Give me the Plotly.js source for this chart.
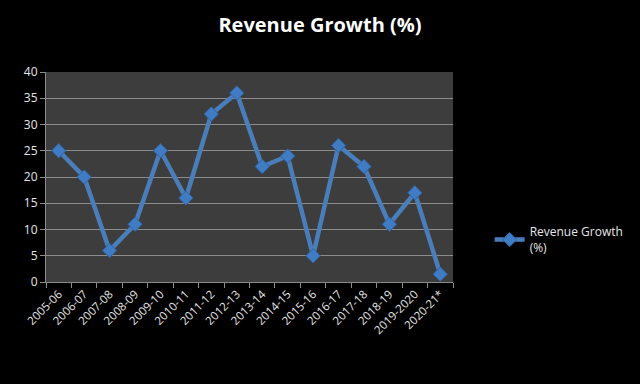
<!DOCTYPE html>
<html>
<head>
<script src="https://cdn.plot.ly/plotly-3.0.1.min.js"></script>
<style>html,body{margin:0;padding:0;background:#000;}#chart{width:640px;height:384px;}</style>
</head>
<body>
<div id="chart"></div>
<script>
const categories = ["2005-06","2006-07","2007-08","2008-09","2009-10","2010-11","2011-12","2012-13","2013-14","2014-15","2015-16","2016-17","2017-18","2018-19","2019-2020","2020-21*"];
const revenueGrowth = [25, 20, 6, 11, 25, 16, 32, 36, 22, 24, 5, 26, 22, 11, 17, 1.5];
const yTicks = [0, 5, 10, 15, 20, 25, 30, 35, 40];

const trace = {
  x: categories,
  y: revenueGrowth,
  type: 'scatter',
  mode: 'lines+markers',
  name: 'Revenue Growth<br>(%)',
  line: {color: '#4a7ebb', width: 4.5},
  marker: {symbol: 'diamond', size: 11, color: '#3f7cc4', line: {color: '#2f62a0', width: 1}}
};

const layout = {
  width: 640, height: 384,
  paper_bgcolor: '#000000',
  plot_bgcolor: '#3d3d3d',
  margin: {l: 46, r: 187, t: 72, b: 102, autoexpand: false},
  title: {text: '<b>Revenue Growth (%)</b>', x: 0.5, xref: 'container', xanchor: 'center', y: 0.935, yref: 'container', yanchor: 'middle', font: {family: 'Open Sans, Liberation Sans, sans-serif', size: 20, color: '#ffffff'}},
  xaxis: {
    type: 'category',
    range: [-0.5, 15.5],
    tickangle: -45,
    tickson: 'boundaries',
    ticks: 'outside', ticklen: 5, tickcolor: '#8c8c8c',
    showline: true, linecolor: '#8c8c8c', linewidth: 1,
    showgrid: false,
    tickfont: {family: 'Open Sans, Liberation Sans, sans-serif', size: 11.5, color: '#e6e6e6'},
    fixedrange: true
  },
  yaxis: {
    range: [0, 40],
    tickvals: yTicks,
    ticks: 'outside', ticklen: 5, tickcolor: '#8c8c8c',
    showline: true, linecolor: '#8c8c8c', linewidth: 1,
    showgrid: true, gridcolor: '#8c8c8c', gridwidth: 1,
    zeroline: false,
    tickfont: {family: 'Open Sans, Liberation Sans, sans-serif', size: 12, color: '#e6e6e6'},
    fixedrange: true
  },
  showlegend: true,
  legend: {
    x: 1.09, xanchor: 'left', xref: 'paper',
    y: 0.2, yanchor: 'middle',
    font: {family: 'Open Sans, Liberation Sans, sans-serif', size: 12, color: '#e6e6e6'},
    bgcolor: 'rgba(0,0,0,0)',
    itemwidth: 30
  }
};

Plotly.newPlot('chart', [trace], layout, {displayModeBar: false, staticPlot: true});
</script>
</body>
</html>
